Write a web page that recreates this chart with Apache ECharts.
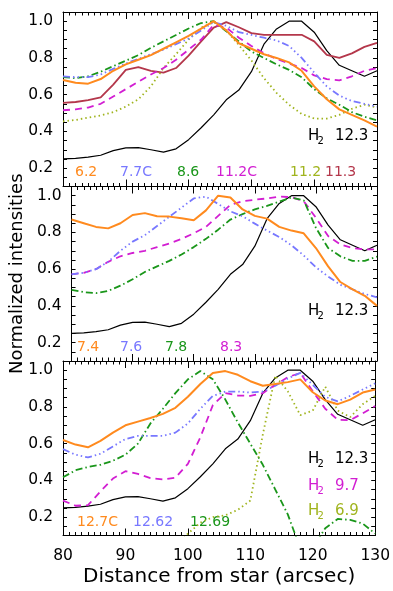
<!DOCTYPE html>
<html>
<head>
<meta charset="utf-8">
<script src="https://cdn.jsdelivr.net/npm/echarts@6/dist/echarts.min.js"></script>
<style>
  html, body { margin: 0; padding: 0; background: #fff; }
  #chart { width: 393px; height: 591px; }
</style>
</head>
<body>
<div id="chart"></div>
<script>
// distance from star (arcsec)
const distance = [80, 82, 84, 86, 88, 90, 92, 94, 96, 98, 100, 102, 104, 106, 108, 110, 112, 114, 116, 118, 120, 122, 124, 126, 128, 130];

// H2 12.3 reference profile, drawn in every panel
const h2_123 = [0.25, 0.253, 0.26, 0.27, 0.295, 0.31, 0.312, 0.30, 0.287, 0.305, 0.355, 0.42, 0.49, 0.572, 0.625, 0.725, 0.875, 0.958, 1.0, 1.0, 0.94, 0.84, 0.76, 0.73, 0.70, 0.73];

// top panel
const pah62 = [0.68, 0.665, 0.66, 0.685, 0.73, 0.765, 0.79, 0.815, 0.85, 0.885, 0.92, 0.96, 1.0, 0.95, 0.88, 0.85, 0.82, 0.80, 0.776, 0.73, 0.645, 0.575, 0.52, 0.49, 0.46, 0.426];
const pah77c = [0.70, 0.695, 0.695, 0.71, 0.74, 0.77, 0.795, 0.82, 0.845, 0.875, 0.905, 0.95, 0.995, 0.975, 0.94, 0.925, 0.91, 0.895, 0.865, 0.80, 0.72, 0.645, 0.595, 0.565, 0.55, 0.535];
const pah86 = [0.695, 0.69, 0.70, 0.725, 0.755, 0.785, 0.815, 0.855, 0.89, 0.925, 0.96, 0.99, 1.0, 0.945, 0.89, 0.835, 0.80, 0.765, 0.735, 0.695, 0.63, 0.58, 0.545, 0.505, 0.48, 0.46];
const pah112c = [0.515, 0.52, 0.53, 0.55, 0.59, 0.63, 0.67, 0.71, 0.745, 0.79, 0.845, 0.9, 0.98, 0.965, 0.91, 0.865, 0.825, 0.795, 0.77, 0.745, 0.705, 0.685, 0.678, 0.70, 0.73, 0.745];
const pah112 = [0.455, 0.462, 0.475, 0.487, 0.505, 0.535, 0.575, 0.645, 0.745, 0.82, 0.90, 0.965, 0.995, 0.95, 0.87, 0.786, 0.69, 0.61, 0.545, 0.495, 0.47, 0.47, 0.49, 0.523, 0.545, 0.53];
const pah113 = [0.555, 0.56, 0.57, 0.585, 0.655, 0.735, 0.75, 0.73, 0.72, 0.745, 0.813, 0.89, 0.965, 0.995, 0.967, 0.935, 0.926, 0.926, 0.926, 0.926, 0.89, 0.817, 0.80, 0.825, 0.86, 0.882];

// middle panel
const pah74 = [0.87, 0.85, 0.83, 0.822, 0.85, 0.895, 0.905, 0.888, 0.886, 0.877, 0.866, 0.92, 1.0, 0.99, 0.925, 0.89, 0.875, 0.83, 0.81, 0.795, 0.715, 0.615, 0.53, 0.49, 0.455, 0.40];
const pah76 = [0.572, 0.58, 0.60, 0.64, 0.70, 0.75, 0.785, 0.835, 0.885, 0.935, 0.985, 0.995, 0.955, 0.915, 0.888, 0.848, 0.81, 0.775, 0.73, 0.675, 0.61, 0.56, 0.515, 0.49, 0.465, 0.446];
const pah78 = [0.487, 0.475, 0.47, 0.482, 0.51, 0.545, 0.585, 0.615, 0.645, 0.68, 0.72, 0.765, 0.815, 0.87, 0.90, 0.925, 0.945, 0.968, 0.99, 0.975, 0.825, 0.715, 0.67, 0.645, 0.645, 0.668];
const pah83 = [0.572, 0.58, 0.60, 0.64, 0.67, 0.688, 0.70, 0.72, 0.74, 0.765, 0.795, 0.83, 0.89, 0.95, 0.97, 0.978, 0.985, 0.995, 0.992, 0.97, 0.88, 0.78, 0.735, 0.715, 0.708, 0.708];

// bottom panel
const pah127c = [0.62, 0.595, 0.58, 0.615, 0.66, 0.70, 0.72, 0.74, 0.762, 0.795, 0.855, 0.925, 0.985, 0.995, 0.975, 0.94, 0.915, 0.925, 0.935, 0.95, 0.88, 0.835, 0.815, 0.84, 0.878, 0.895];
const pah1262 = [0.57, 0.54, 0.525, 0.545, 0.585, 0.625, 0.642, 0.642, 0.642, 0.66, 0.71, 0.79, 0.86, 0.883, 0.884, 0.878, 0.884, 0.915, 0.955, 0.985, 0.92, 0.855, 0.83, 0.86, 0.895, 0.928];
const pah1269 = [0.417, 0.455, 0.473, 0.485, 0.507, 0.54, 0.60, 0.71, 0.79, 0.875, 0.95, 0.995, 0.95, 0.84, 0.715, 0.60, 0.485, 0.35, 0.215, 0.03, 0.03, 0.14, 0.19, 0.185, 0.165, 0.11];
const h2_97 = [0.29, 0.262, 0.265, 0.34, 0.41, 0.45, 0.435, 0.412, 0.405, 0.415, 0.49, 0.635, 0.81, 0.875, 0.862, 0.86, 0.875, 0.92, 0.962, 0.985, 0.885, 0.79, 0.73, 0.728, 0.765, 0.805];
const h2_69 = [null, null, null, null, null, null, null, null, null, 0.03, 0.11, 0.17, 0.20, 0.21, 0.24, 0.29, 0.65, 0.97, 0.885, 0.755, 0.78, 0.91, 0.78, 0.745, 0.815, 0.86];

// colours and dash styles
const ORANGE = '#ff8a1e', BLUE = '#7878ff', GREEN = '#1a961a', MAGENTA = '#d21ed2',
      OLIVE = '#a0b41e', MAROON = '#b4374b', BLACK = '#000';
const SOLID = 'solid', DASH = [7, 5], DASHDOT = [7, 3, 1.5, 3],
      DASH3DOT = [7, 3, 1.5, 3, 1.5, 3, 1.5, 3], DOT = [1.5, 3];

const panels = [
  [
    { data: h2_123, color: BLACK, type: SOLID, width: 1.2 },
    { data: pah113, color: MAROON, type: SOLID, width: 1.8 },
    { data: pah112, color: OLIVE, type: DOT, width: 1.8 },
    { data: pah112c, color: MAGENTA, type: DASH, width: 1.8 },
    { data: pah86, color: GREEN, type: DASHDOT, width: 1.8 },
    { data: pah77c, color: BLUE, type: DASH3DOT, width: 1.8 },
    { data: pah62, color: ORANGE, type: SOLID, width: 2 }
  ],
  [
    { data: h2_123, color: BLACK, type: SOLID, width: 1.2 },
    { data: pah83, color: MAGENTA, type: DASH, width: 1.8 },
    { data: pah78, color: GREEN, type: DASHDOT, width: 1.8 },
    { data: pah76, color: BLUE, type: DASH3DOT, width: 1.8 },
    { data: pah74, color: ORANGE, type: SOLID, width: 2 }
  ],
  [
    { data: h2_123, color: BLACK, type: SOLID, width: 1.2 },
    { data: h2_69, color: OLIVE, type: DOT, width: 1.8 },
    { data: h2_97, color: MAGENTA, type: DASH, width: 1.8 },
    { data: pah1269, color: GREEN, type: DASHDOT, width: 1.8 },
    { data: pah1262, color: BLUE, type: DASH3DOT, width: 1.8 },
    { data: pah127c, color: ORANGE, type: SOLID, width: 2 }
  ]
];

const FONT = '"DejaVu Sans", sans-serif';
const gridTops = [12, 186.5, 361];
const gridH = 174.5;

const grid = gridTops.map(t => ({ left: 63, right: 16, top: t, height: gridH }));

const xAxis = [];
const yAxis = [];
gridTops.forEach((t, g) => {
  const last = g === 2;
  ['bottom', 'top'].forEach(pos => {
    xAxis.push({
      type: 'value', gridIndex: g, position: pos, min: 80, max: 130, interval: 10,
      axisLine: { show: true, onZero: false, lineStyle: { color: '#000', width: 1 } },
      axisTick: { show: true, inside: true, length: 7, lineStyle: { color: '#000' } },
      minorTick: { show: true, splitNumber: 10, length: 3.5, lineStyle: { color: '#000' } },
      splitLine: { show: false },
      axisLabel: { show: last && pos === 'bottom', margin: 12, color: '#000', fontFamily: FONT, fontSize: 15.5 },
      name: last && pos === 'bottom' ? 'Distance from star (arcsec)' : '',
      nameLocation: 'middle', nameGap: 31,
      nameTextStyle: { color: '#000', fontFamily: FONT, fontSize: 20 }
    });
  });
  ['left', 'right'].forEach(pos => {
    yAxis.push({
      type: 'value', gridIndex: g, position: pos, min: 0.1, max: 1.05, interval: 0.05,
      axisLine: { show: true, onZero: false, lineStyle: { color: '#000', width: 1 } },
      axisTick: { show: true, inside: true, length: 4, lineStyle: { color: '#000' } },
      splitLine: { show: false },
      axisLabel: {
        show: pos === 'left', margin: 10, color: '#000', fontFamily: FONT, fontSize: 15.5,
        formatter: v => (Math.round(v * 100) % 20 === 0 ? v.toFixed(1) : '')
      },
      name: g === 1 && pos === 'left' ? 'Normalized intensities' : '',
      nameLocation: 'middle', nameGap: 45,
      nameTextStyle: { color: '#000', fontFamily: FONT, fontSize: 18 }
    });
  });
});

const series = [];
panels.forEach((list, g) => {
  list.forEach(s => {
    series.push({
      type: 'line', xAxisIndex: 2 * g, yAxisIndex: 2 * g,
      data: distance.map((d, i) => [d, s.data[i]]),
      showSymbol: false, symbol: 'none', clip: true, silent: true,
      lineStyle: { color: s.color, type: s.type, width: s.width }
    });
  });
});

// in-panel labels
function txt(x, y, text, color, size) {
  return {
    type: 'text', x: x, y: y, silent: true,
    style: {
      text: text, fill: color, font: (size || 14) + 'px ' + FONT,
      textAlign: 'left', textVerticalAlign: 'middle'
    }
  };
}
function h2(y, num, color) {
  return [txt(308, y, 'H', color, 15), txt(317.5, y + 5, '2', color, 10), txt(335, y, num, color, 15)];
}

const graphic = [
  txt(75, 172.5, '6.2', ORANGE), txt(120, 172.5, '7.7C', BLUE), txt(177, 172.5, '8.6', GREEN),
  txt(216, 172.5, '11.2C', MAGENTA), txt(290, 172.5, '11.2', OLIVE), txt(325, 172.5, '11.3', MAROON),
  txt(77, 347.5, '7.4', ORANGE), txt(120, 347.5, '7.6', BLUE), txt(165, 347.5, '7.8', GREEN),
  txt(220, 347.5, '8.3', MAGENTA),
  txt(77, 522.5, '12.7C', ORANGE), txt(133, 522.5, '12.62', BLUE), txt(190, 522.5, '12.69', GREEN)
].concat(h2(136, '12.3', BLACK), h2(311, '12.3', BLACK), h2(459, '12.3', BLACK),
         h2(486, '9.7', MAGENTA), h2(511, '6.9', OLIVE));

const chart = echarts.init(document.getElementById('chart'), null, { renderer: 'canvas' });
chart.setOption({
  animation: false,
  backgroundColor: '#fff',
  grid: grid,
  xAxis: xAxis,
  yAxis: yAxis,
  series: series,
  graphic: graphic
});
</script>
</body>
</html>
